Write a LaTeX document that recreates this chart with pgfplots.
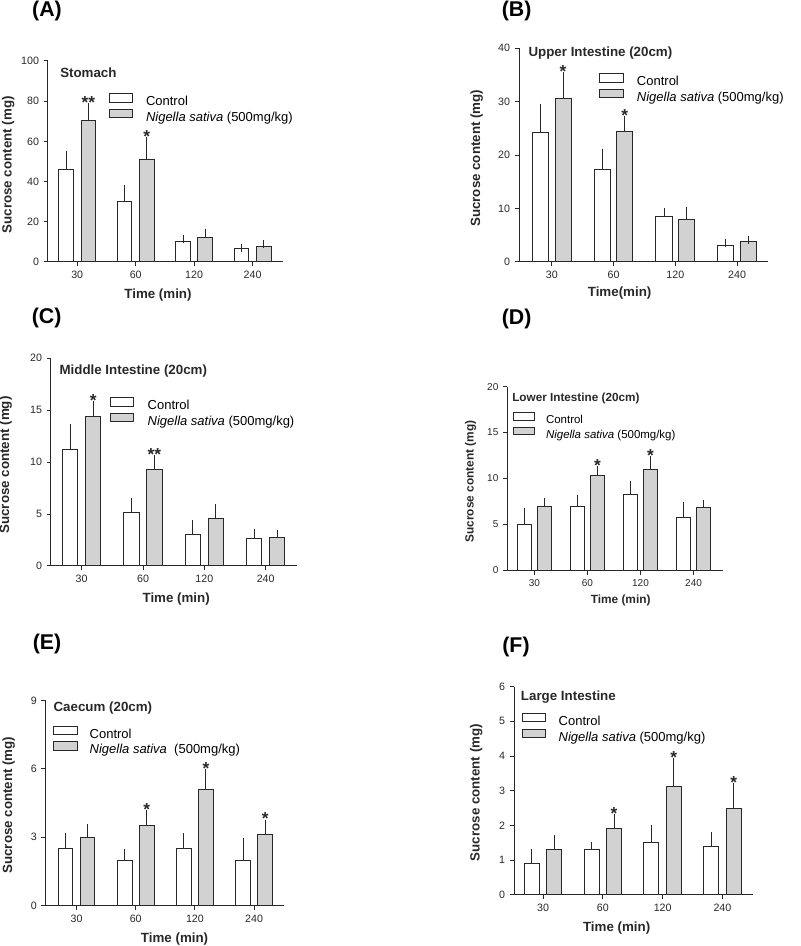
\documentclass[border=0pt]{standalone}
\usepackage{pgfplots}
\pgfplotsset{compat=1.18}
\usepackage{fontspec}
\setmainfont{Liberation Sans}
\definecolor{barg}{RGB}{210,210,210}
\definecolor{ink}{RGB}{40,40,40}
\pgfplotsset{
  panel/.style={
    scale only axis,
    anchor=south west,
    axis x line*=bottom, axis y line*=left,
    axis line style={ink, line width=0.75pt, -},
    ymin=0,
    xtick={0,1,2,3}, xticklabels={30,60,120,240},
    tick align=outside, major tick length=3.2pt,
    tick style={ink, line width=0.75pt},
    /pgf/number format/assume math mode=true,
    ticklabel style={font=\fontsize{8}{9}\selectfont, text=ink},
    ybar, bar width=0.25,
    clip=false,
    xlabel style={anchor=center, font=\bfseries\fontsize{10}{12}\selectfont, text=ink},
    ylabel style={anchor=center, font=\bfseries\fontsize{10}{12}\selectfont, text=ink},
    legend cell align=left,
    legend style={anchor=north west, draw=none, fill=none, inner sep=0pt, outer sep=0pt,
      column sep=9.5pt, row sep=0.2pt, font=\fontsize{9.75}{11}\selectfont,
      nodes={inner sep=0pt, text height=7pt, text depth=2pt}},
    legend image code/.code={\draw[##1, line width=0.75pt] (0pt,0.25pt) rectangle (17.5pt,6.65pt);},
  },
  ctrl/.style={fill=white, draw=ink, line width=0.75pt},
  ns/.style={fill=barg, draw=ink, line width=0.75pt},
  eb/.style={error bars/.cd, y dir=plus, y explicit, error mark=-,
    error bar style={ink, line width=0.75pt},
    error mark options={ink, mark size=3pt, line width=0.75pt}},
}
\tikzset{
  ttl/.style={anchor=west, inner sep=0pt, font=\bfseries\fontsize{10}{12}\selectfont, text=ink},
  star/.style={anchor=south, inner sep=0pt, yshift=-1.2pt, font=\bfseries\fontsize{13}{13}\selectfont, text=ink},
  plab/.style={font=\bfseries\fontsize{16}{16}\selectfont},
}
\begin{document}
\begin{tikzpicture}
\useasboundingbox (0,0) rectangle (600pt,709.5pt);

% ---------------- (A) Stomach
\begin{axis}[panel, at={(36pt,513pt)}, width=176.25pt, height=150.75pt,
  xmin=-0.5, xmax=3.52, ymax=100, ytick={0,20,...,100},
  xlabel={Time (min)}, ylabel={Sucrose content (mg)},
  xlabel style={at={(axis description cs:0.468,0)}, yshift=-24.75pt},
  ylabel style={at={(axis description cs:0,0.483)}, yshift=29.8pt},
  legend style={at={(axis description cs:0.2596,0.840)}}]
\addplot[ctrl, bar shift=-0.19, eb] coordinates {(0,46.0) +- (0,7.4) (1,30.2) +- (0,6.3) (2,10.1) +- (0,1.2) (3,6.6) +- (0,0.5)};
\addplot[ns, bar shift=0.19, eb] coordinates {(0,70.5) +- (0,6.4) (1,51.2) +- (0,8.8) (2,12.3) +- (0,2.3) (3,7.8) +- (0,1.0)};
\legend{Control, \textit{Nigella sativa} (500mg/kg)}
\node[ttl] at (axis description cs:0.051,0.942) {Stomach};
\node[star] at (axis cs:0.19,76.9) {**};
\node[star] at (axis cs:1.19,60.0) {*};
\end{axis}

% ---------------- (B) Upper Intestine
\begin{axis}[panel, at={(389.25pt,513.2pt)}, width=186.75pt, height=160.05pt,
  xmin=-0.53, xmax=3.5, ymax=40, ytick={0,10,...,40}, bar width=0.26,
  xlabel={Time(min)}, ylabel={Sucrose content (mg)},
  xlabel style={at={(axis description cs:0.404,0)}, yshift=-23.7pt},
  ylabel style={at={(axis description cs:0,0.485)}, yshift=31.7pt},
  legend style={at={(axis description cs:0.3225,0.8843)}, column sep=10pt}]
\addplot[ctrl, bar shift=-0.183, eb] coordinates {(0,24.25) +- (0,4.65) (1,17.3) +- (0,3.1) (2,8.56) +- (0,0.84) (3,3.1) +- (0,0.5)};
\addplot[ns, bar shift=0.183, eb] coordinates {(0,30.6) +- (0,4.2) (1,24.4) +- (0,2.2) (2,7.9) +- (0,1.7) (3,3.8) +- (0,0.3)};
\legend{Control, \textit{Nigella sativa} (500mg/kg)}
\node[ttl] at (axis description cs:0.0373,0.9766) {Upper Intestine (20cm)};
\node[star] at (axis cs:0.183,34.8) {*};
\node[star] at (axis cs:1.183,26.6) {*};
\end{axis}

% ---------------- (C) Middle Intestine
\begin{axis}[panel, at={(38.25pt,285pt)}, width=184.5pt, height=155.8pt,
  xmin=-0.5, xmax=3.51, ymax=20, ytick={0,5,...,20},
  xlabel={Time (min)}, ylabel={Sucrose content (mg)},
  xlabel style={at={(axis description cs:0.509,0)}, yshift=-25pt},
  ylabel style={at={(axis description cs:0,0.486)}, yshift=34pt},
  legend style={at={(axis description cs:0.2398,0.8127)}, column sep=10pt}]
\addplot[ctrl, bar shift=-0.187, eb] coordinates {(0,11.2) +- (0,2.1) (1,5.17) +- (0,0.96) (2,3.08) +- (0,0.92) (3,2.6) +- (0,0.58)};
\addplot[ns, bar shift=0.187, eb] coordinates {(0,14.4) +- (0,1.1) (1,9.3) +- (0,1.0) (2,4.6) +- (0,0.95) (3,2.7) +- (0,0.4)};
\legend{Control, \textit{Nigella sativa} (500mg/kg)}
\node[ttl] at (axis description cs:0.0337,0.9403) {Middle Intestine (20cm)};
\node[star] at (axis cs:0.187,15.5) {*};
\node[star] at (axis cs:1.187,10.3) {**};
\end{axis}

% ---------------- (D) Lower Intestine
\begin{axis}[panel, at={(380.5pt,281.8pt)}, width=161.55pt, height=137.7pt,
  xmin=-0.51, xmax=3.55, ymax=20, ytick={0,5,...,20}, bar width=0.254,
  ticklabel style={font=\fontsize{7.5}{9}\selectfont},
  xlabel={Time (min)}, ylabel={Sucrose content (mg)},
  xlabel style={at={(axis description cs:0.526,0)}, yshift=-23pt, font=\bfseries\fontsize{8.9}{10}\selectfont},
  ylabel style={at={(axis description cs:0,0.483)}, yshift=27.5pt, font=\bfseries\fontsize{8.9}{10}\selectfont},
  legend style={at={(axis description cs:0.025,0.8595)}, column sep=8.5pt, row sep=0.7pt,
    font=\fontsize{8.6}{10}\selectfont, nodes={inner sep=0pt, text height=6.2pt, text depth=1.8pt}},
  legend image code/.code={\draw[#1, line width=0.75pt] (0pt,0.3pt) rectangle (15.75pt,5.8pt);}]
\addplot[ctrl, bar shift=-0.188, eb] coordinates {(0,4.97) +- (0,1.42) (1,6.97) +- (0,0.83) (2,8.3) +- (0,1.0) (3,5.77) +- (0,1.27)};
\addplot[ns, bar shift=0.188, eb] coordinates {(0,6.97) +- (0,0.43) (1,10.34) +- (0,0.56) (2,10.96) +- (0,1.04) (3,6.86) +- (0,0.34)};
\legend{Control, \textit{Nigella sativa} (500mg/kg)}
\node[ttl, font=\bfseries\fontsize{8.8}{10}\selectfont] at (axis description cs:0.0218,0.9368) {Lower Intestine (20cm)};
\node[star] at (axis cs:1.188,10.9) {*};
\node[star] at (axis cs:2.188,12.0) {*};
\end{axis}

% ---------------- (E) Caecum
\begin{axis}[panel, at={(34.3pt,30.2pt)}, width=178.95pt, height=154.05pt,
  xmin=-0.52, xmax=3.51, ymax=9, ytick={0,3,6,9},
  xlabel={Time (min)}, ylabel={Sucrose content (mg)},
  xlabel style={at={(axis description cs:0.54,0)}, yshift=-24.75pt},
  ylabel style={at={(axis description cs:0,0.49)}, yshift=27.7pt},
  legend style={at={(axis description cs:0.0319,0.8773)}, column sep=9pt}]
\addplot[ctrl, bar shift=-0.186, eb] coordinates {(0,2.5) +- (0,0.5) (1,2.0) +- (0,0.3) (2,2.5) +- (0,0.5) (3,2.0) +- (0,0.8)};
\addplot[ns, bar shift=0.186, eb] coordinates {(0,3.0) +- (0,0.4) (1,3.5) +- (0,0.5) (2,5.1) +- (0,0.7) (3,3.1) +- (0,0.5)};
\legend{Control, \textit{Nigella sativa}\ \ (500mg/kg)}
\node[ttl] at (axis description cs:0.0319,0.9625) {Caecum (20cm)};
\node[star] at (axis cs:1.186,4.0) {*};
\node[star] at (axis cs:2.186,5.8) {*};
\node[star] at (axis cs:3.186,3.6) {*};
\end{axis}

% ---------------- (F) Large Intestine
\begin{axis}[panel, at={(385.5pt,38.5pt)}, width=179pt, height=156pt,
  xmin=-0.485, xmax=3.505, ymax=6, ytick={0,1,...,6},
  xlabel={Time (min)}, ylabel={Sucrose content (mg)},
  xlabel style={at={(axis description cs:0.430,0)}, yshift=-25.3pt},
  ylabel style={at={(axis description cs:0,0.491)}, yshift=28.3pt},
  legend style={at={(axis description cs:0.0323,0.874)}, column sep=9.5pt}]
\addplot[ctrl, bar shift=-0.187, eb] coordinates {(0,0.9) +- (0,0.3) (1,1.3) +- (0,0.1) (2,1.5) +- (0,0.4) (3,1.4) +- (0,0.3)};
\addplot[ns, bar shift=0.187, eb] coordinates {(0,1.3) +- (0,0.3) (1,1.9) +- (0,0.3) (2,3.12) +- (0,0.7) (3,2.5) +- (0,0.6)};
\legend{Control, \textit{Nigella sativa} (500mg/kg)}
\node[ttl] at (axis description cs:0.0281,0.9519) {Large Intestine};
\node[star] at (axis cs:1.187,2.2) {*};
\node[star] at (axis cs:2.187,3.82) {*};
\node[star] at (axis cs:3.187,3.1) {*};
\end{axis}

% panel letters
\node[plab] at (35.25pt,700.9pt) {(A)};
\node[plab] at (387.5pt,700.9pt) {(B)};
\node[plab] at (35pt,471pt) {(C)};
\node[plab] at (387.5pt,470.25pt) {(D)};
\node[plab] at (35.25pt,226.5pt) {(E)};
\node[plab] at (387pt,224.5pt) {(F)};
\end{tikzpicture}
\end{document}
